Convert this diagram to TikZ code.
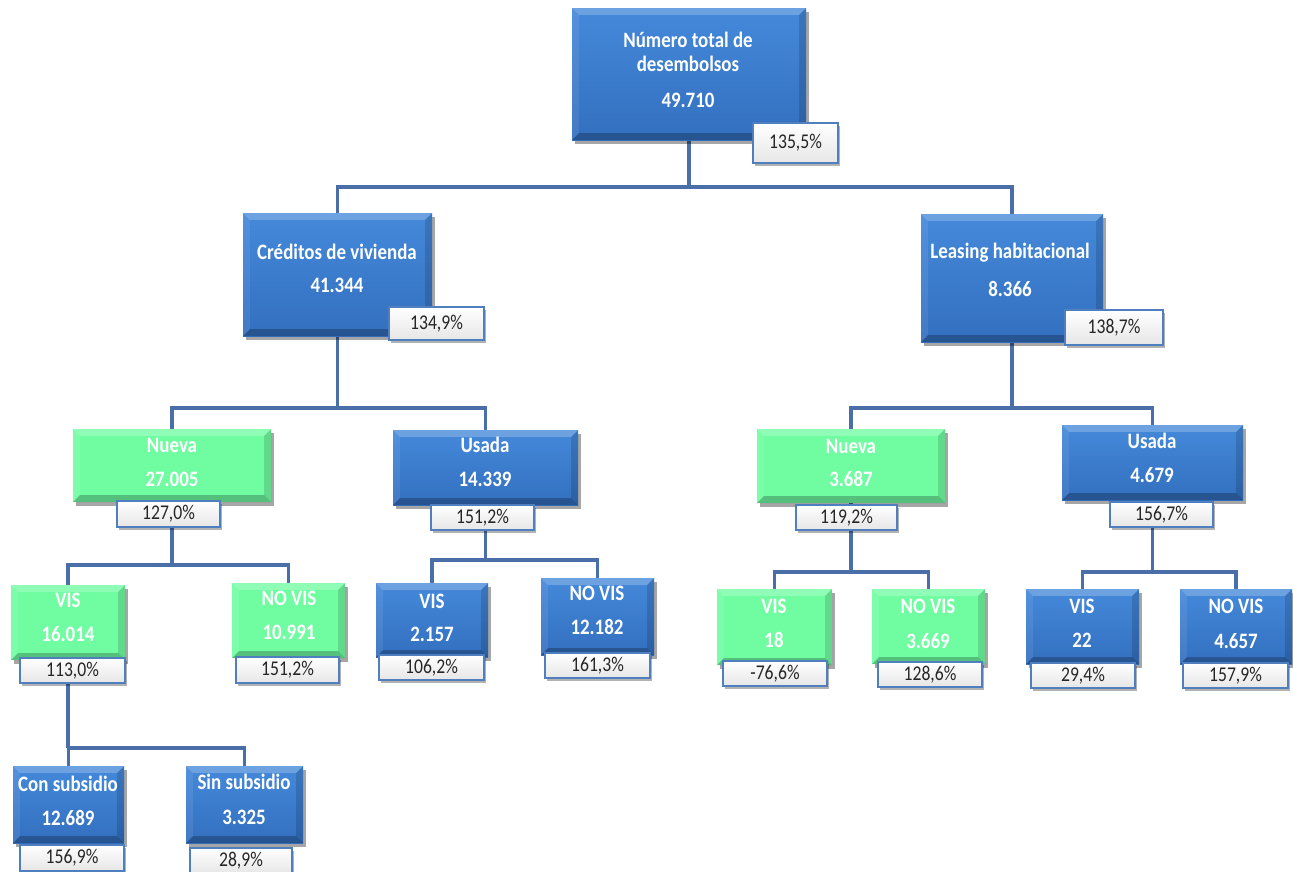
\documentclass[tikz,border=0pt]{standalone}
\usepackage{fontspec}
\newfontfamily\boxfont{Carlito}[FakeStretch=0.86]
\newfontfamily\pctfont{Carlito}[FakeStretch=0.84]
\usetikzlibrary{shadows,calc}
\definecolor{lineblue}{HTML}{4A6EA8}
\definecolor{bluetop}{HTML}{4589DA}
\definecolor{bluebot}{HTML}{336FBF}
\definecolor{greenmain}{HTML}{70FDA2}
\definecolor{pctedge}{HTML}{4F7FBE}
\definecolor{pctbot}{HTML}{E6E6E6}
\pgfdeclarelayer{back}
\pgfdeclarelayer{bg}
\pgfsetlayers{back,bg,main}
\tikzset{
  conn/.style={draw=lineblue, line width=3.5pt},
  boxbase/.style={rectangle, inner sep=0pt, draw=none,
    drop shadow={shadow xshift=3pt, shadow yshift=-4pt, opacity=0.35, fill=black}},
  bluebox/.style={boxbase, top color=bluetop, bottom color=bluebot},
  greenbox/.style={boxbase, fill=greenmain},
  lbl/.style={font=\boxfont\bfseries\fontsize{22}{24}\selectfont, text=white, inner sep=0pt},
  pct/.style={rectangle, draw=pctedge, line width=2pt, top color=white, bottom color=pctbot,
    font=\pctfont\fontsize{21}{22}\selectfont, text=black!85, inner sep=0pt,
    drop shadow={shadow xshift=2pt, shadow yshift=-3pt, opacity=0.3, fill=black}}
}
\newcommand\bevelfaces[1]{%
  \fill[white, opacity=0.22] (#1.north west) -- (#1.north east) -- ([shift={(-7pt,-7pt)}]#1.north east) -- ([shift={(7pt,-7pt)}]#1.north west) -- cycle;
  \fill[white, opacity=0.08] (#1.north west) -- ([shift={(7pt,-7pt)}]#1.north west) -- ([shift={(7pt,7pt)}]#1.south west) -- (#1.south west) -- cycle;
  \fill[black, opacity=0.14] (#1.north east) -- ([shift={(-7pt,-7pt)}]#1.north east) -- ([shift={(-7pt,7pt)}]#1.south east) -- (#1.south east) -- cycle;
  \fill[black, opacity=0.24] (#1.south west) -- ([shift={(7pt,7pt)}]#1.south west) -- ([shift={(-7pt,7pt)}]#1.south east) -- (#1.south east) -- cycle;
}
\newcommand\mkbox[6]{% name, style, cx, cy, w, h
  \node[#2, minimum width=#5pt, minimum height=#6pt] (#1) at (#3,#4) {};
  \bevelfaces{#1}
}
\begin{document}
\begin{tikzpicture}[x=1pt,y=-1pt]
\begin{pgfonlayer}{back}
\fill[white] (0,0) rectangle (1293,871);
\end{pgfonlayer}
\useasboundingbox (0,0) rectangle (1293,871);

% boxes
\mkbox{root}{bluebox}{689}{74}{234}{132}
\mkbox{cred}{bluebox}{337.5}{274.5}{189}{123}
\mkbox{leas}{bluebox}{1012}{278}{182}{128}
\mkbox{nueL}{greenbox}{172}{465.5}{198}{73}
\mkbox{usaL}{bluebox}{485.5}{467.5}{185}{75}
\mkbox{nueR}{greenbox}{851}{466}{188}{74}
\mkbox{usaR}{bluebox}{1152.5}{462.5}{181}{75}
\mkbox{visA}{greenbox}{68}{622.5}{114}{75}
\mkbox{novA}{greenbox}{288.5}{620.5}{113}{75}
\mkbox{visB}{bluebox}{432}{620}{112}{74}
\mkbox{novB}{bluebox}{597.5}{616.5}{113}{77}
\mkbox{visC}{greenbox}{774.5}{627}{115}{76}
\mkbox{novC}{greenbox}{928.5}{626.5}{113}{75}
\mkbox{visD}{bluebox}{1082.5}{626.5}{113}{75}
\mkbox{novD}{bluebox}{1236}{626.5}{112}{75}
\mkbox{con}{bluebox}{68.5}{804.5}{111}{77}
\mkbox{sin}{bluebox}{244.5}{804.5}{117}{77}

% texts
\node[lbl] (t1a) at (688,40) {Número total de};
\node[lbl] (t1b) at (688,64) {desembolsos};
\node[lbl] (t1c) at (688,100) {49.710};
\node[lbl] (t2a) at (337,252) {Créditos de vivienda};
\node[lbl] (t2b) at (337,285) {41.344};
\node[lbl] (t3a) at (1010,253) {Leasing habitacional};
\node[lbl] (t3b) at (1010,289) {8.366};
\node[lbl] (t4a) at (172,445) {Nueva};
\node[lbl] (t4b) at (172,479) {27.005};
\node[lbl] (t5a) at (485,445) {Usada};
\node[lbl] (t5b) at (485,479) {14.339};
\node[lbl] (t6a) at (851,446) {Nueva};
\node[lbl] (t6b) at (851,479) {3.687};
\node[lbl] (t7a) at (1152,441) {Usada};
\node[lbl] (t7b) at (1152,475) {4.679};
\node[lbl] (t8a) at (68,600) {VIS};
\node[lbl] (t8b) at (68,634) {16.014};
\node[lbl] (t9a) at (289,598) {NO VIS};
\node[lbl] (t9b) at (289,632) {10.991};
\node[lbl] (t10a) at (432,601) {VIS};
\node[lbl] (t10b) at (432,634) {2.157};
\node[lbl] (t11a) at (597,593) {NO VIS};
\node[lbl] (t11b) at (597,627) {12.182};
\node[lbl] (t12a) at (774,606) {VIS};
\node[lbl] (t12b) at (774,640) {18};
\node[lbl] (t13a) at (928,606) {NO VIS};
\node[lbl] (t13b) at (928,641) {3.669};
\node[lbl] (t14a) at (1082,606) {VIS};
\node[lbl] (t14b) at (1082,640) {22};
\node[lbl] (t15a) at (1236,606) {NO VIS};
\node[lbl] (t15b) at (1236,641) {4.657};
\node[lbl] (t16a) at (68,784) {Con subsidio};
\node[lbl] (t16b) at (68,818) {12.689};
\node[lbl] (t17a) at (244,782) {Sin subsidio};
\node[lbl] (t17b) at (244,817) {3.325};

% percentage boxes
\node[pct, minimum width=85pt, minimum height=40pt] (p1) at (795.5,143) {135,5\%};
\node[pct, minimum width=95pt, minimum height=33pt] (p2) at (436.5,323.5) {134,9\%};
\node[pct, minimum width=98pt, minimum height=35pt] (p3) at (1114,327.5) {138,7\%};
\node[pct, minimum width=103pt, minimum height=26pt] (p4) at (168.5,514) {127,0\%};
\node[pct, minimum width=103pt, minimum height=25pt] (p5) at (482.5,517.5) {151,2\%};
\node[pct, minimum width=101pt, minimum height=25pt] (p6) at (846.5,517.5) {119,2\%};
\node[pct, minimum width=103pt, minimum height=25pt] (p7) at (1161.5,514.5) {156,7\%};
\node[pct, minimum width=105pt, minimum height=25pt] (p8) at (72.5,670.5) {113,0\%};
\node[pct, minimum width=103pt, minimum height=26pt] (p9) at (287.5,670) {151,2\%};
\node[pct, minimum width=105pt, minimum height=25pt] (p10) at (431.5,667.5) {106,2\%};
\node[pct, minimum width=105pt, minimum height=25pt] (p11) at (597.5,665.5) {161,3\%};
\node[pct, minimum width=104pt, minimum height=25pt] (p12) at (775,673.5) {-76,6\%};
\node[pct, minimum width=104pt, minimum height=25pt] (p13) at (930,674.5) {128,6\%};
\node[pct, minimum width=104pt, minimum height=25pt] (p14) at (1083,675.5) {29,4\%};
\node[pct, minimum width=105pt, minimum height=25pt] (p15) at (1235.5,675.5) {157,9\%};
\node[pct, minimum width=104pt, minimum height=26pt] (p16) at (72,858) {156,9\%};
\node[pct, minimum width=102pt, minimum height=26pt] (p17) at (241,861) {28,9\%};

% connectors
\begin{pgfonlayer}{bg}
\path (root.south) ++(0,47) coordinate (j0);
\path (cred.south) ++(0,72) coordinate (j1);
\path (leas.south) ++(0,66) coordinate (j2);
\path (nueL.south) ++(0,63) coordinate (j3);
\path (usaL.south) ++(0,55) coordinate (j4);
\path (nueR.south) ++(0,69) coordinate (j5);
\path (usaR.south) ++(0,72) coordinate (j6);
\path (visA.south) ++(0,88) coordinate (j7);
\draw[conn] (root.south) -- (j0);
\draw[conn] (cred.north) |- (j0) -| (leas.north);
\draw[conn] (cred.south) -- (j1);
\draw[conn] (nueL.north) |- (j1) -| (usaL.north);
\draw[conn] (leas.south) -- (j2);
\draw[conn] (nueR.north) |- (j2) -| (usaR.north);
\draw[conn] (nueL.south) -- (j3);
\draw[conn] (visA.north) |- (j3) -| (novA.north);
\draw[conn] (usaL.south) -- (j4);
\draw[conn] (visB.north) |- (j4) -| (novB.north);
\draw[conn] (nueR.south) -- (j5);
\draw[conn] (visC.north) |- (j5) -| (novC.north);
\draw[conn] (usaR.south) -- (j6);
\draw[conn] (visD.north) |- (j6) -| (novD.north);
\draw[conn] (visA.south) -- (j7);
\draw[conn] (con.north) |- (j7) -| (sin.north);
\end{pgfonlayer}
\end{tikzpicture}
\end{document}
